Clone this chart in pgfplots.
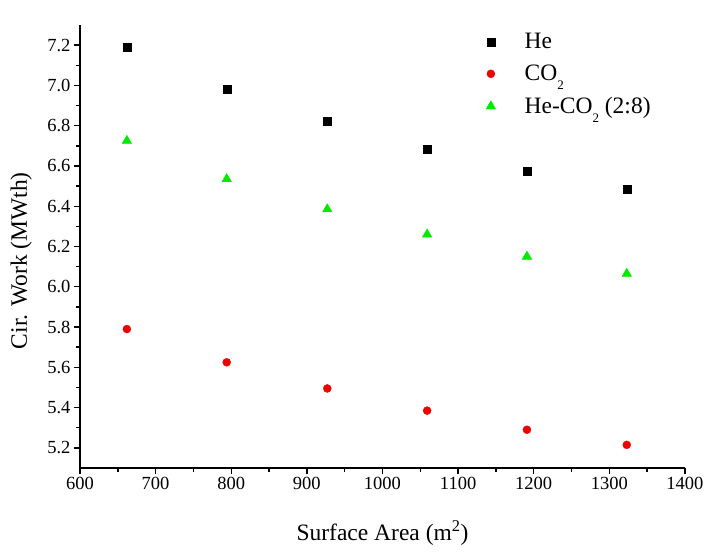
\documentclass[border=0pt]{standalone}
\usepackage{pgfplots}
\pgfplotsset{compat=1.18}
\usepackage{fontspec}
\setmainfont{Liberation Serif}
\definecolor{cored}{RGB}{240,0,0}
\definecolor{mixgreen}{RGB}{0,235,0}
\newcommand{\lowsub}[1]{\raisebox{-9pt}{\fontsize{13}{13}\selectfont #1}}
\begin{document}
\begin{tikzpicture}
\begin{axis}[
  scale only axis, width=605pt, height=443pt,
  xmin=600, xmax=1400, ymin=5.1, ymax=7.3,
  axis x line*=bottom, axis y line*=left,
  xtick={600,700,800,900,1000,1100,1200,1300,1400},
  ytick={5.2,5.4,5.6,5.8,6.0,6.2,6.4,6.6,6.8,7.0,7.2},
  minor x tick num=1, minor y tick num=1,
  tick align=outside, major tick length=6pt, minor tick length=4pt,
  axis line style={line width=1.6pt},
  tick style={line width=1.4pt, black},
  /pgf/number format/assume math mode=true,
  ticklabel style={font=\fontsize{18.5}{22}\selectfont},
  yticklabel style={/pgf/number format/.cd, fixed, fixed zerofill, precision=1},
  xticklabel style={/pgf/number format/.cd, 1000 sep={}},
  xlabel={Surface Area (m\textsuperscript{2})},
  ylabel={Cir. Work (MWth)},
  label style={font=\fontsize{23.5}{28}\selectfont},
  xlabel style={at={(axis description cs:0.5,-0.147)}, anchor=center},
  ylabel style={at={(axis description cs:-0.097,0.468)}, anchor=center},
  legend style={draw=none, fill=none, at={(rel axis cs:0.666,0.986)}, anchor=north west,
    font=\fontsize{23.5}{28}\selectfont, row sep=15pt, legend cell align=left,
    nodes={inner sep=0pt},
    /tikz/every odd column/.append style={column sep=29pt}},
]
\addplot[only marks, mark=square*, mark size=4pt, black] coordinates {
 (662,7.19) (794,6.98) (927,6.82) (1059,6.685) (1191,6.575) (1323,6.485)};
\addlegendentry{He}
\addplot[only marks, mark=*, mark size=4pt, cored, mark options={fill=cored, draw=cored}] coordinates {
 (662,5.79) (794,5.625) (927,5.495) (1059,5.385) (1191,5.29) (1323,5.215)};
\addlegendentry{CO\lowsub{2}}
\addplot[only marks, mark=triangle*, mark size=5.5pt, mixgreen, mark options={fill=mixgreen, draw=mixgreen}] coordinates {
 (662,6.725) (794,6.535) (927,6.385) (1059,6.26) (1191,6.15) (1323,6.065)};
\addlegendentry{He-CO\lowsub{2} (2:8)}
\end{axis}
\pgfresetboundingbox
\path[use as bounding box] (-80pt,-87pt) rectangle (632pt,468pt);
\end{tikzpicture}
\end{document}
